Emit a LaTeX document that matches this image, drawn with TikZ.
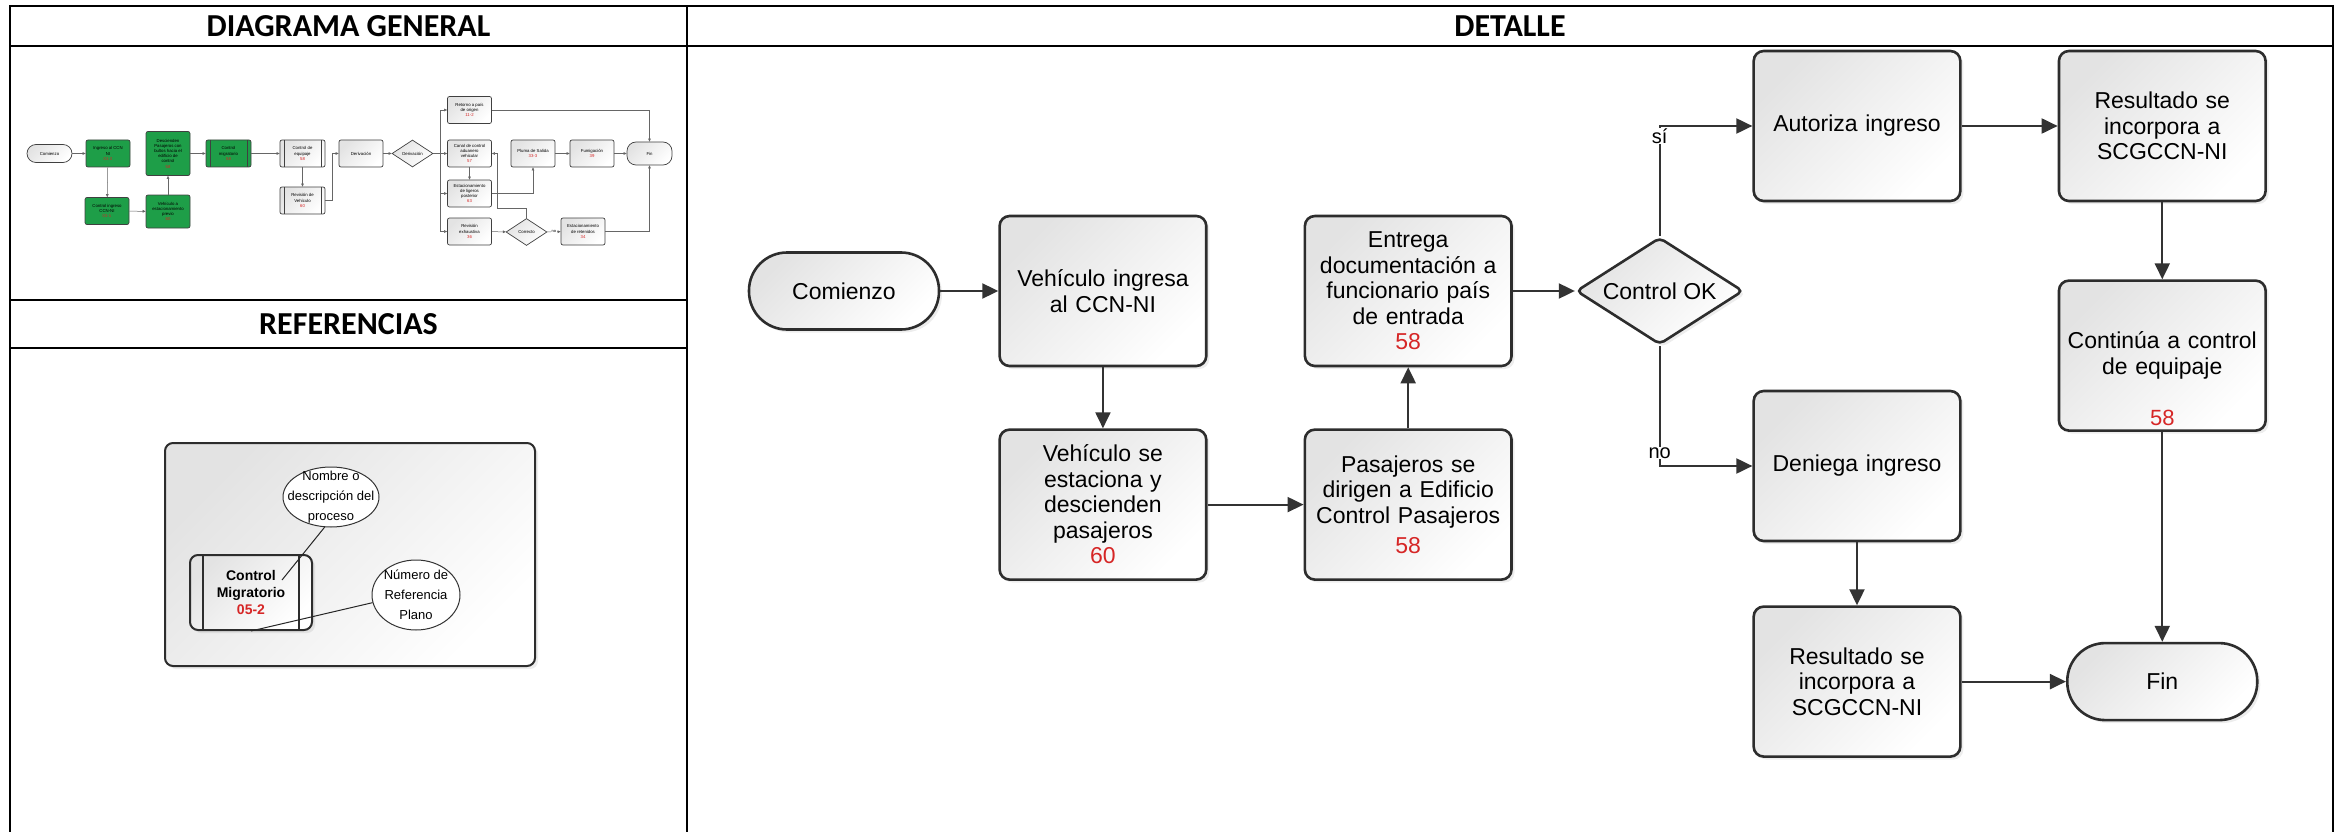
\documentclass[tikz,border=0pt]{standalone}
\usepackage{fontspec}
\setmainfont{Liberation Sans}
\newfontfamily\hdrfont{Carlito}
\usetikzlibrary{arrows.meta, positioning, shapes.geometric, shadows}

\definecolor{numred}{RGB}{214,38,38}
\definecolor{boxgreen}{RGB}{30,158,72}
\definecolor{edgegray}{RGB}{45,45,45}

\newcommand{\dnum}[1]{\textcolor{numred}{#1}}

\tikzset{
    flowbase/.style={x=1pt, y=-1pt, >={Triangle[length=16pt, width=15pt]}},
    frame/.style={draw=black, line width=2.6pt},
    header/.style={font=\hdrfont\bfseries\fontsize{32}{36}\selectfont, inner sep=0pt},
    boxshade/.style={top color=black!11, bottom color=white, shading angle=45},
    softshadow/.style={drop shadow={shadow xshift=3pt, shadow yshift=-3pt, opacity=0.14}},
    process/.style={rectangle, draw=edgegray, line width=2.6pt, rounded corners=10pt, boxshade, softshadow,
        minimum width=205pt, minimum height=150pt, text width=200pt, align=center,
        font=\fontsize{23}{25.5}\selectfont},
    startstop/.style={rectangle, draw=edgegray, line width=2.6pt, rounded corners=38pt, boxshade, softshadow,
        minimum width=190pt, minimum height=77pt, align=center, font=\fontsize{23}{26}\selectfont},
    decision/.style={diamond, draw=edgegray, line width=2.6pt, rounded corners=5pt, boxshade, softshadow,
        minimum width=167pt, minimum height=107pt, aspect=1.56, inner sep=0pt, font=\fontsize{23}{26}\selectfont},
    line/.style={draw=black!80, line width=2pt, ->},
    flowlabel/.style={font=\fontsize{20}{22}\selectfont, fill=white, inner sep=1pt},
    num/.style={text=numred, font=\fontsize{22}{24}\selectfont},
    predef/.style={path picture={\draw[line width=#1, edgegray]
        ([xshift=13pt]path picture bounding box.north west) -- ([xshift=13pt]path picture bounding box.south west)
        ([xshift=-13pt]path picture bounding box.north east) -- ([xshift=-13pt]path picture bounding box.south east);}},
    minipredef/.style={path picture={\draw[line width=0.6pt, black!75]
        ([xshift=4pt]path picture bounding box.north west) -- ([xshift=4pt]path picture bounding box.south west)
        ([xshift=-4pt]path picture bounding box.north east) -- ([xshift=-4pt]path picture bounding box.south east);}},
    legendbox/.style={rectangle, draw=edgegray, line width=2pt, rounded corners=8pt, boxshade, softshadow,
        minimum width=122pt, minimum height=75pt, align=center, font=\bfseries\fontsize{14}{17}\selectfont, predef=1.5pt},
    callout/.style={ellipse, draw=black!80, line width=1pt, fill=white, align=center, font=\fontsize{13}{20}\selectfont},
    pointer/.style={draw=black!85, line width=1pt},
    minibase/.style={rectangle, rounded corners=2pt, draw=black!75, line width=0.7pt, minimum width=44pt,
        minimum height=27pt, inner sep=0.5pt, align=center, font=\fontsize{4.3}{5.2}\selectfont},
    miniproc/.style={minibase, boxshade},
    minigreen/.style={minibase, fill=boxgreen},
    ministart/.style={minibase, boxshade, rounded corners=9pt, minimum width=45pt, minimum height=18pt},
    minidec/.style={diamond, draw=black!75, line width=0.7pt, boxshade, minimum width=41pt, minimum height=27pt,
        aspect=1.5, inner sep=0pt, font=\fontsize{4.3}{5.2}\selectfont},
    miniline/.style={draw=black!60, line width=0.5pt, -{Triangle[length=3pt, width=2.6pt]}},
    minilabel/.style={font=\fontsize{4}{4}\selectfont, fill=white, inner sep=0.5pt},
}

\begin{document}
\begin{tikzpicture}[flowbase]
\useasboundingbox (0,0) rectangle (2343,832);

% ===================== TABLE =====================
\draw[frame] (10,845) -- (10,6) -- (2333,6) -- (2333,845);
\draw[frame] (10,46) -- (2333,46);
\draw[frame] (687,6) -- (687,845);
\draw[frame] (10,300) -- (687,300);
\draw[frame] (10,348) -- (687,348);

\node[header] (h_gen) at (348.5,26) {DIAGRAMA GENERAL};
\node[header] (h_det) at (1510,26) {DETALLE};
\node[header] (h_ref) at (348.5,324) {REFERENCIAS};

% ===================== DIAGRAMA GENERAL (miniature) =====================
\node[ministart] (g_start) at (49.5,153.5) {Comienzo};
\node[minigreen] (g_ing) at (108,153.5) {Ingreso al CCN\\NI\\\dnum{01-2}};
\node[minigreen] (g_cing) at (107,211) {Control ingreso\\CCN-NI\\\dnum{01-1}};
\node[minigreen, minimum height=33pt] (g_veh) at (168,211.5) {Vehículo a\\estacionamiento\\previo\\\dnum{60}};
\node[minigreen, minimum height=44pt] (g_desc) at (168,153.5) {Descienden\\Pasajeros con\\bultos hacia el\\edificio de\\control\\\dnum{58}};
\node[minigreen, minipredef, minimum width=45pt] (g_mig) at (228.5,153.5) {Control\\migratorio\\\dnum{58}};
\node[miniproc, minipredef, minimum width=45pt] (g_equip) at (302.5,153.5) {Control de\\equipaje\\\dnum{58}};
\node[miniproc, minipredef, minimum width=45pt] (g_rev) at (302.5,200.5) {Revisión de\\Vehículo\\\dnum{60}};
\node[miniproc] (g_derb) at (361,153.5) {Derivación};
\node[minidec] (g_derd) at (412.5,153.5) {Derivación};
\node[miniproc] (g_ret) at (469.5,110) {Retorno a país\\de origen\\\dnum{11-2}};
\node[miniproc] (g_can) at (469.5,153.5) {Canal de control\\aduanero\\vehicular\\\dnum{57}};
\node[miniproc] (g_estl) at (469.5,193.5) {Estacionamiento\\de ligeros\\posterior\\\dnum{63}};
\node[miniproc] (g_revx) at (469.5,231.5) {Revisión\\exhaustiva\\\dnum{36}};
\node[minidec] (g_corr) at (526.5,232) {Correcto};
\node[miniproc] (g_estr) at (583,231.5) {Estacionamiento\\de retenidos\\\dnum{34}};
\node[miniproc] (g_plu) at (533,153.5) {Pluma de Salida\\\dnum{33-3}};
\node[miniproc] (g_fum) at (592,153.5) {Fumigación\\\dnum{39}};
\node[ministart, minimum height=23pt] (g_fin) at (649.5,153.5) {Fin};
\coordinate (g_split) at (440,153.5);

\draw[miniline] (g_start) -- (g_ing);
\draw[miniline] (g_ing) -- (g_cing);
\draw[miniline] (g_cing) -- (g_veh);
\draw[miniline] (g_veh) -- (g_desc);
\draw[miniline] (g_desc) -- (g_mig);
\draw[miniline] (g_mig) -- (g_equip);
\draw[miniline] (g_equip) -- (g_rev);
\draw[miniline] (g_rev.east) -- ++(7,0) |- (g_derb.west);
\draw[miniline] (g_derb) -- (g_derd);
\draw[miniline, -] (g_derd) -- (g_split);
\draw[miniline] (g_split) |- (g_ret);
\draw[miniline] (g_split) -- (g_can);
\draw[miniline] (g_split) |- (g_estl);
\draw[miniline] (g_split) |- (g_revx);
\draw[miniline] (g_can) -- (g_estl);
\draw[miniline] (g_estl) -| (g_plu);
\draw[miniline] (g_corr.north) -- ++(0,-10) -| ([xshift=5pt]g_can.east) -- (g_can.east);
\draw[miniline] (g_revx) -- (g_corr);
\draw[miniline] (g_corr) -- node[minilabel]{no} (g_estr);
\draw[miniline] (g_plu) -- (g_fum);
\draw[miniline] (g_fum) -- (g_fin);
\draw[miniline] (g_ret) -| (g_fin);
\draw[miniline] (g_estr) -| (g_fin);

% ===================== REFERENCIAS =====================
\node[rectangle, draw=edgegray, line width=2pt, rounded corners=8pt, boxshade, softshadow,
      minimum width=370pt, minimum height=223pt] (r_frame) at (350,554.5) {};
\node[legendbox] (r_box) at (251,592.5) {Control\\Migratorio\\\dnum{05-2}};
\node[callout, minimum width=96pt, minimum height=60pt, inner xsep=-10pt, inner ysep=-6pt] (r_name) at (331,497) {Nombre o\\descripción del\\proceso};
\node[callout, minimum width=88pt, minimum height=70pt, inner xsep=-2pt, inner ysep=-3pt] (r_num) at (416,595) {Número de\\Referencia\\Plano};
\coordinate (r_namept) at (282,580);
\draw[pointer] (r_name.258) -- (r_namept);
\draw[pointer] (r_num.190) -- (r_box.south);

% ===================== DETALLE =====================
\node[startstop] (d_start) at (844,291) {Comienzo};
\node[process, right=58pt of d_start] (d_veh1) {Vehículo ingresa\\al CCN-NI};
\node[process, below=61pt of d_veh1] (d_veh2) {Vehículo se\\estaciona y\\descienden\\pasajeros\\\dnum{60}};
\node[process, right=96pt of d_veh2] (d_pas) {Pasajeros se\\dirigen a Edificio\\Control Pasajeros\\[5pt]\dnum{58}};
\node[process, above=61pt of d_pas] (d_ent) {Entrega\\documentación a\\funcionario país\\de entrada\\\dnum{58}};
\node[decision, right=62pt of d_ent] (d_ok) {Control OK};

\draw[line] (d_start) -- (d_veh1);
\draw[line] (d_veh1) -- (d_veh2);
\draw[line] (d_veh2) -- (d_pas);
\draw[line] (d_pas) -- (d_ent);
\draw[line] (d_ent) -- (d_ok);

% Branch: control approved
\node[process] (d_aut) at (1857,126) {Autoriza ingreso};
\node[process, right=96pt of d_aut] (d_res1) {Resultado se\\incorpora a\\SCGCCN-NI};
\node[process, below=77pt of d_res1, label={[num, anchor=base, yshift=6pt]south:58}] (d_cont) {Continúa a control\\de equipaje};

% Branch: control rejected
\node[process] (d_den) at (1857,466) {Deniega ingreso};
\node[process, below=63pt of d_den] (d_res2) {Resultado se\\incorpora a\\SCGCCN-NI};
\node[startstop] (d_fin) at (d_cont |- d_res2) {Fin};

\draw[line] (d_ok.north) |- node[flowlabel, pos=0.5, yshift=-10pt]{sí} (d_aut.west);
\draw[line] (d_ok.south) |- node[flowlabel, pos=0.5, yshift=13pt]{no} (d_den.west);
\draw[line] (d_aut) -- (d_res1);
\draw[line] (d_res1) -- (d_cont);
\draw[line] (d_cont) -- (d_fin);
\draw[line] (d_den) -- (d_res2);
\draw[line] (d_res2) -- (d_fin);

\end{tikzpicture}
\end{document}
